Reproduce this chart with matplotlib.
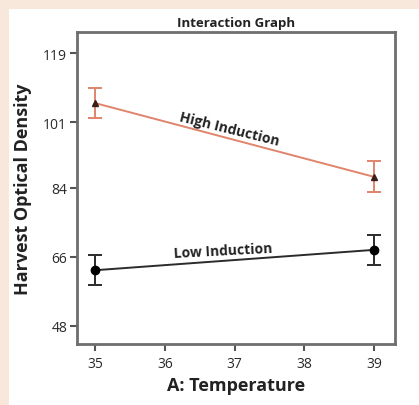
import matplotlib.pyplot as plt
from matplotlib.patches import Rectangle

# ---------------- data ----------------
temps = [35, 39]
high_mean = [106.0, 86.8]
high_err = [4.0, 4.0]
low_mean = [62.5, 67.8]
low_err = [3.9, 3.9]

y_ticks = [48, 66, 84, 101, 119]
x_ticks = [35, 36, 37, 38, 39]

HIGH_COLOR = "#e0846c"
LOW_COLOR = "#2b2b2b"
FONT = ["Open Sans", "DejaVu Sans"]

plt.rcParams["font.family"] = FONT

fig = plt.figure(figsize=(4.19, 4.06), dpi=100)
fig.patch.set_facecolor("#f8e7db")
# white card behind the chart
fig.patches.append(Rectangle((9 / 419, 0), 1, 1 - 10 / 406,
                             transform=fig.transFigure,
                             facecolor="white", edgecolor="none", zorder=-5))

W, H = 419, 406
ax = fig.add_axes([77 / W, 1 - 345 / H, (395 - 77) / W, (345 - 33) / H])
ax.set_zorder(1)
ax.set_facecolor("white")

# high induction
ax.plot(temps, high_mean, color=HIGH_COLOR, lw=1.4, zorder=2)
ax.errorbar(temps, high_mean, yerr=high_err, fmt="none", ecolor=HIGH_COLOR,
            elinewidth=1.4, capsize=5, capthick=1.4, zorder=3)
ax.plot(temps, high_mean, "^", color="#3a1e18", ms=5, zorder=4)

# low induction
ax.plot(temps, low_mean, color=LOW_COLOR, lw=1.4, zorder=2)
ax.errorbar(temps, low_mean, yerr=low_err, fmt="none", ecolor=LOW_COLOR,
            elinewidth=1.4, capsize=5, capthick=1.4, zorder=3)
ax.plot(temps, low_mean, "o", color="black", ms=6, zorder=4)

ax.text(36.92, 99.4, "High Induction", rotation=-14, ha="center", va="center",
        fontsize=10, fontweight="bold", color="#222222")
ax.text(36.83, 67.6, "Low Induction", rotation=3, ha="center", va="center",
        fontsize=10, fontweight="bold", color="#222222")

ax.set_xlim(34.74, 39.3)
ax.set_ylim(43.3, 124.5)
ax.set_xticks(x_ticks)
ax.set_yticks(y_ticks)
ax.tick_params(axis="both", direction="out", length=5, width=1.5,
               color="#555555", labelsize=10, labelcolor="#2a2a2a", pad=2)
ax.tick_params(axis="x", pad=4)

for s in ax.spines.values():
    s.set_color("#6e6e6e")
    s.set_linewidth(2)

ax.set_title("Interaction Graph", fontsize=9.5, fontweight="bold", pad=4,
             color="#222222")
ax.set_xlabel("A: Temperature", fontsize=13, fontweight="bold", labelpad=3,
              color="#222222")
ax.set_ylabel("Harvest Optical Density", fontsize=13, fontweight="bold",
              labelpad=8, color="#222222")

fig.savefig("out.png", dpi=100, facecolor=fig.get_facecolor())
